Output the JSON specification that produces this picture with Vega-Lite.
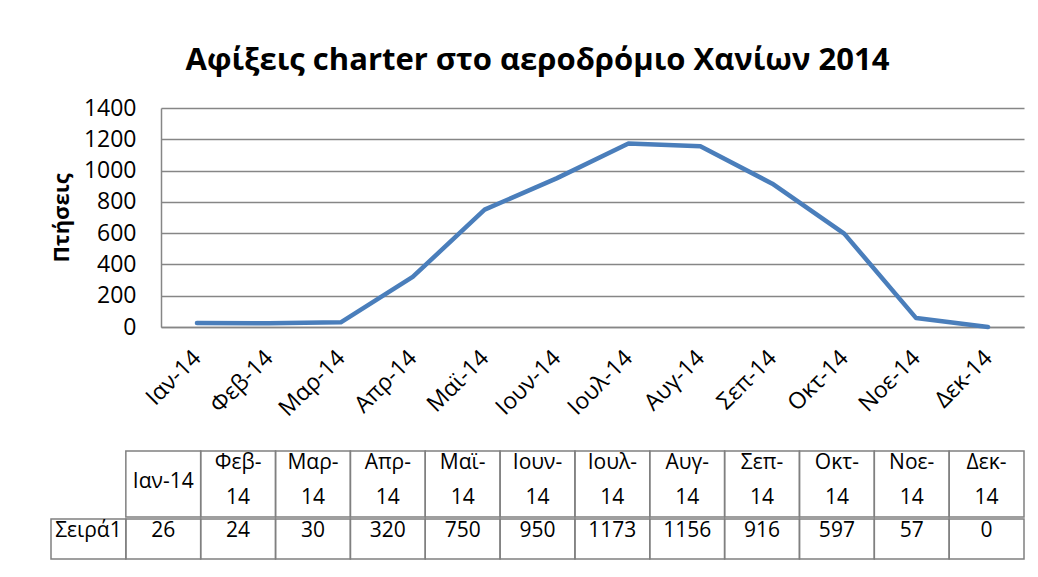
{
  "$schema": "https://vega.github.io/schema/vega-lite/v6.json",
  "background": "white",
  "autosize": {"type": "pad"},
  "padding": {"left": 50, "top": 45, "right": 10, "bottom": 10},
  "title": {"text": "Αφίξεις charter στο αεροδρόμιο Χανίων 2014", "font": "Open Sans", "fontSize": 31, "fontWeight": "bold", "color": "black", "anchor": "middle", "frame": "bounds", "offset": 20},
  "config": {"view": {"stroke": null}, "font": "Open Sans"},
  "datasets": {
    "flights": [
      {"month": "Ιαν-14", "flights": 26},
      {"month": "Φεβ-14", "flights": 24},
      {"month": "Μαρ-14", "flights": 30},
      {"month": "Απρ-14", "flights": 320},
      {"month": "Μαϊ-14", "flights": 750},
      {"month": "Ιουν-14", "flights": 950},
      {"month": "Ιουλ-14", "flights": 1173},
      {"month": "Αυγ-14", "flights": 1156},
      {"month": "Σεπ-14", "flights": 916},
      {"month": "Οκτ-14", "flights": 597},
      {"month": "Νοε-14", "flights": 57},
      {"month": "Δεκ-14", "flights": 0}
    ]
  },
  "spacing": 29,
  "resolve": {"scale": {"x": "independent", "y": "independent"}},
  "vconcat": [
    {
      "width": 863,
      "height": 219,
      "data": {"name": "flights"},
      "mark": {"type": "line", "color": "#4a7ebb", "strokeWidth": 4.5, "strokeCap": "round", "strokeJoin": "round"},
      "encoding": {
        "x": {"field": "month", "type": "ordinal", "sort": null, "scale": {"type": "point", "padding": 0.5},
          "axis": {"title": null, "labelAngle": -45, "labelAlign": "right", "labelBaseline": "middle", "labelFontSize": 23, "labelPadding": 27, "ticks": false, "grid": false, "domainColor": "#868686", "domainWidth": 1.5, "labelColor": "black"}},
        "y": {"field": "flights", "type": "quantitative", "scale": {"domain": [0, 1400]},
          "axis": {"values": [0, 200, 400, 600, 800, 1000, 1200, 1400], "format": "d", "title": "Πτήσεις", "titleFontSize": 22, "titleFontWeight": "bold", "titleColor": "black", "titlePadding": 10, "labelFontSize": 23, "labelPadding": 25, "labelColor": "black", "ticks": false, "gridColor": "#868686", "gridWidth": 1.5, "domainColor": "#868686", "domainWidth": 1.5}}
      }
    },
    {
      "spacing": 0,
      "resolve": {"scale": {"x": "independent"}},
      "vconcat": [
        {
          "width": 863,
          "height": 66,
          "data": {"name": "flights"},
          "encoding": {
            "x": {"field": "month", "type": "nominal", "axis": null,
              "scale": {"domain": ["Σειρά1", "Ιαν-14", "Φεβ-14", "Μαρ-14", "Απρ-14", "Μαϊ-14", "Ιουν-14", "Ιουλ-14", "Αυγ-14", "Σεπ-14", "Οκτ-14", "Νοε-14", "Δεκ-14"], "range": [-110, 863], "paddingInner": 0, "paddingOuter": 0}}
          },
          "layer": [
            {"mark": {"type": "bar", "fill": "white", "fillOpacity": 0, "stroke": "#808080", "strokeWidth": 1.5}},
            {"transform": [{"filter": "datum.month != 'Ιαν-14'"}, {"calculate": "slice(datum.month, 0, indexof(datum.month, '-') + 1)", "as": "line1"}],
              "mark": {"type": "text", "fontSize": 21, "color": "black", "baseline": "middle", "dy": -21},
              "encoding": {"text": {"field": "line1", "type": "nominal"}}},
            {"transform": [{"filter": "datum.month != 'Ιαν-14'"}, {"calculate": "slice(datum.month, indexof(datum.month, '-') + 1)", "as": "line2"}],
              "mark": {"type": "text", "fontSize": 21, "color": "black", "baseline": "middle", "dy": 14},
              "encoding": {"text": {"field": "line2", "type": "nominal"}}},
            {"transform": [{"filter": "datum.month == 'Ιαν-14'"}],
              "mark": {"type": "text", "fontSize": 21, "color": "black", "baseline": "middle", "dy": -2},
              "encoding": {"text": {"field": "month", "type": "nominal"}}}
          ]
        },
        {
          "width": 863,
          "height": 40,
          "encoding": {
            "x": {"field": "month", "type": "nominal", "axis": null,
              "scale": {"domain": ["Σειρά1", "Ιαν-14", "Φεβ-14", "Μαρ-14", "Απρ-14", "Μαϊ-14", "Ιουν-14", "Ιουλ-14", "Αυγ-14", "Σεπ-14", "Οκτ-14", "Νοε-14", "Δεκ-14"], "range": [-110, 863], "paddingInner": 0, "paddingOuter": 0}}
          },
          "layer": [
            {"data": {"name": "flights"}, "mark": {"type": "bar", "fill": "white", "fillOpacity": 0, "stroke": "#808080", "strokeWidth": 1.5}},
            {"data": {"name": "flights"}, "mark": {"type": "text", "fontSize": 21, "color": "black", "baseline": "middle", "dy": -8},
              "encoding": {"text": {"field": "flights", "type": "quantitative", "format": "d"}}},
            {"data": {"values": [{"month": "Σειρά1"}]}, "mark": {"type": "bar", "fill": "white", "fillOpacity": 0, "stroke": "#808080", "strokeWidth": 1.5}},
            {"data": {"values": [{"month": "Σειρά1"}]}, "mark": {"type": "text", "fontSize": 21, "color": "black", "baseline": "middle", "dy": -8},
              "encoding": {"text": {"field": "month", "type": "nominal"}}}
          ]
        }
      ]
    }
  ]
}
